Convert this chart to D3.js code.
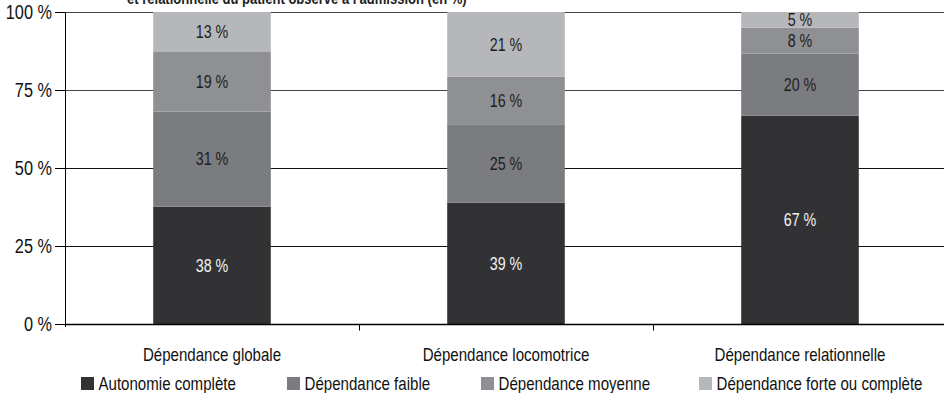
<!DOCTYPE html>
<html><head><meta charset="utf-8">
<script src="https://cdn.jsdelivr.net/npm/d3@7"></script>
<style>
html,body{margin:0;padding:0;background:#fff;}
svg{display:block;font-family:"Liberation Sans",Arial,sans-serif;}
</style></head>
<body>
<svg id="c" width="944" height="393"></svg>
<script>
const titleText = "et relationnelle du patient observé à l'admission (en %)";
const categories = ["Dépendance globale", "Dépendance locomotrice", "Dépendance relationnelle"];
const seriesNames = ["Autonomie complète", "Dépendance faible", "Dépendance moyenne", "Dépendance forte ou complète"];
const autonomie = [37.6, 38.9, 66.8];
const faible = [30.5, 24.9, 19.9];
const moyenne = [19.3, 15.5, 8.3];
const forte = [12.6, 20.7, 5.0];
const yTicks = [0, 25, 50, 75, 100];
const colors = ["#323234", "#7b7c80", "#8f9094", "#b6b7bb"];
const labelColors = ["#f2f2f2", "#1e1e1e", "#1e1e1e", "#1e1e1e"];
const SX = 0.815; // horizontal condensation to mimic a narrow typeface

const seriesValues = [autonomie, faible, moyenne, forte];
const rows = categories.map((c, i) => {
  const r = {cat: c};
  seriesNames.forEach((s, j) => r[s] = seriesValues[j][i]);
  return r;
});
const stack = d3.stack().keys(seriesNames)(rows);

const svg = d3.select("#c");
const x = d3.scaleBand().domain(categories).range([65, 947]).padding(0);
const y = d3.scaleLinear().domain([0, 100]).range([324, 12]);
const barW = x.bandwidth() * 0.4;
const tr = (px, py) => `translate(${px},${py}) scale(${SX},1)`;

// title (cut off at top, as in the source)
svg.append("text").attr("transform", tr(127, 3.5))
  .attr("font-size", 16).attr("font-weight", "bold").attr("fill", "#222")
  .text(titleText);

// gridlines
svg.append("g").selectAll("line").data(yTicks.filter(t => t > 0)).join("line")
  .attr("x1", 65).attr("x2", 944)
  .attr("y1", d => Math.round(y(d)) + 0.5).attr("y2", d => Math.round(y(d)) + 0.5)
  .attr("stroke", d => d >= 75 ? "#444" : "#111").attr("stroke-width", 1);

// bars
const g = svg.append("g");
stack.forEach((layer, j) => {
  const key = seriesNames[j];
  g.selectAll(null).data(layer).join("rect")
    .attr("x", d => x(d.data.cat) + (x.bandwidth() - barW) / 2)
    .attr("width", barW)
    .attr("y", d => y(d[1]))
    .attr("height", d => y(d[0]) - y(d[1]))
    .attr("fill", colors[j]);
  g.selectAll(null).data(layer).join("text")
    .attr("transform", d => tr(x(d.data.cat) + x.bandwidth() / 2, (y(d[0]) + y(d[1])) / 2))
    .attr("dy", "0.36em")
    .attr("text-anchor", "middle")
    .attr("font-size", 17.5)
    .attr("fill", labelColors[j])
    .text(d => Math.round(d.data[key]) + " %");
});

// y axis
const ya = svg.append("g");
ya.append("line").attr("x1", 65.5).attr("x2", 65.5).attr("y1", 12).attr("y2", 327).attr("stroke", "#000");
ya.selectAll(".tk").data(yTicks).join("line").attr("class", "tk")
  .attr("x1", 55).attr("x2", 65.5)
  .attr("y1", d => Math.round(y(d)) + 0.5).attr("y2", d => Math.round(y(d)) + 0.5)
  .attr("stroke", "#000");
ya.selectAll(".lb").data(yTicks).join("text").attr("class", "lb")
  .attr("transform", d => tr(52, y(d)))
  .attr("dy", "0.36em").attr("text-anchor", "end")
  .attr("font-size", 20).attr("fill", "#111")
  .text(d => d + " %");

// x axis
const xa = svg.append("g").attr("transform", "translate(0,324.5)");
xa.append("line").attr("x1", 65).attr("x2", 944).attr("stroke", "#000").attr("stroke-width", 1.6);
xa.selectAll(".tk").data(categories.slice(1)).join("line").attr("class", "tk")
  .attr("x1", d => Math.round(x(d)) + 0.5).attr("x2", d => Math.round(x(d)) + 0.5)
  .attr("y1", 0).attr("y2", 6).attr("stroke", "#000");
xa.selectAll(".lb").data(categories).join("text").attr("class", "lb")
  .attr("transform", d => tr(x(d) + x.bandwidth() / 2, 36))
  .attr("text-anchor", "middle").attr("font-size", 18.5).attr("fill", "#111")
  .text(d => d);

// legend
const legX = [81, 287, 481, 699];
const leg = svg.append("g").selectAll("g").data(seriesNames).join("g")
  .attr("transform", (d, i) => `translate(${legX[i]},377)`);
leg.append("rect").attr("width", 13).attr("height", 13).attr("fill", (d, i) => colors[i]);
leg.append("text").attr("transform", tr(17.5, 13)).attr("font-size", 18.5).attr("fill", "#111").text(d => d);
</script>
</body></html>
